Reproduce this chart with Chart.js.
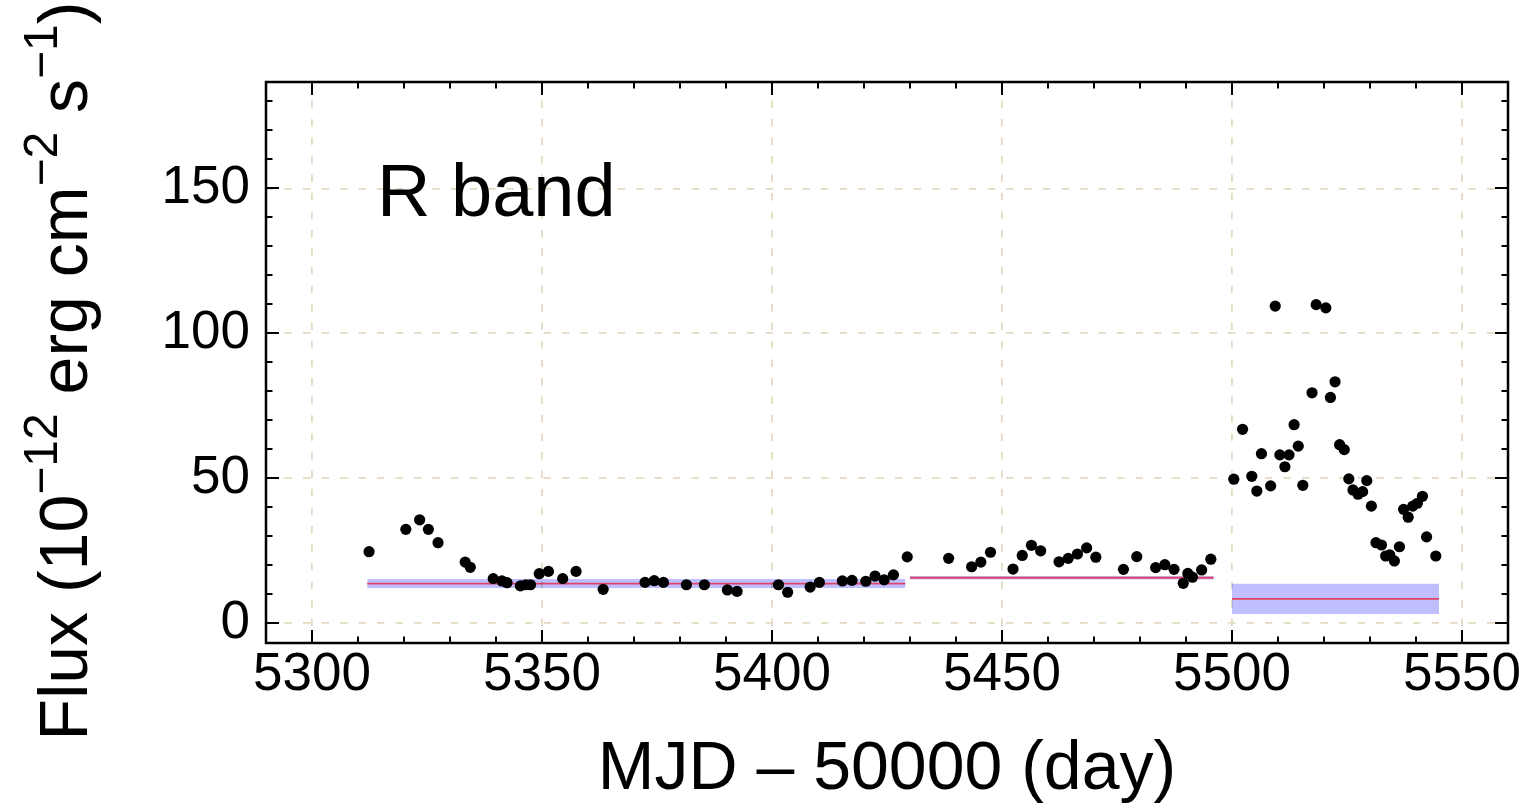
<!DOCTYPE html>
<html>
<head>
<meta charset="utf-8">
<title>R band light curve</title>
<script src="https://cdn.jsdelivr.net/npm/chart.js@4.4.1/dist/chart.umd.min.js"></script>
<style>
  html, body { margin: 0; padding: 0; background: #ffffff; }
  #wrap { width: 1535px; height: 811px; }
</style>
</head>
<body>
<div id="wrap"><canvas id="c" width="1535" height="811"></canvas></div>
<script>
// Observation epochs (MJD - 50000) and R-band flux (1e-12 erg cm^-2 s^-1)
const mjd = [
  5312.4, 5320.4, 5323.4, 5325.3, 5327.4, 5333.3, 5334.4, 5339.4, 5341.3, 5342.4,
  5345.3, 5346.5, 5347.5, 5349.4, 5351.4, 5354.5, 5357.4, 5363.3, 5372.4, 5374.4,
  5376.4, 5381.4, 5385.3, 5390.3, 5392.4, 5401.4, 5403.4, 5408.3, 5410.3, 5415.3,
  5417.4, 5420.4, 5422.4, 5424.4, 5426.4, 5429.4, 5438.4, 5443.4, 5445.4, 5447.5,
  5452.4, 5454.4, 5456.4, 5458.4, 5462.4, 5464.4, 5466.4, 5468.4, 5470.4, 5476.4,
  5479.3, 5483.4, 5485.4, 5487.4, 5489.4, 5490.4, 5491.4, 5493.4, 5495.4, 5500.4,
  5502.3, 5504.3, 5505.4, 5506.4, 5508.4, 5509.4, 5510.4, 5511.5, 5512.4, 5513.5,
  5514.4, 5515.4, 5517.4, 5518.3, 5520.4, 5521.4, 5522.4, 5523.4, 5524.4, 5525.4,
  5526.3, 5527.4, 5528.4, 5529.3, 5530.3, 5531.3, 5532.5, 5533.4, 5534.3, 5535.3,
  5536.4, 5537.3, 5538.3, 5539.3, 5540.3, 5541.4, 5542.3, 5544.3
];
const flux = [
  24.7, 32.4, 35.7, 32.4, 27.8, 21.1, 19.3, 15.4, 14.6, 14.0,
  12.9, 13.3, 13.3, 17.1, 17.9, 15.4, 17.9, 11.7, 14.1, 14.7,
  14.1, 13.3, 13.3, 11.5, 11.0, 13.3, 10.7, 12.5, 14.1, 14.6,
  14.8, 14.5, 16.3, 15.0, 16.7, 22.9, 22.4, 19.5, 21.1, 24.5,
  18.7, 23.4, 26.9, 25.0, 21.2, 22.4, 23.9, 26.0, 22.8, 18.6,
  23.0, 19.2, 20.2, 18.6, 13.8, 17.2, 15.9, 18.4, 22.1, 49.7,
  66.9, 50.7, 45.6, 58.5, 47.4, 109.4, 58.1, 54.0, 58.1, 68.5,
  61.1, 47.6, 79.5, 109.9, 108.8, 77.9, 83.3, 61.6, 59.9, 49.8,
  46.0, 44.5, 45.4, 49.2, 40.4, 27.8, 27.0, 23.2, 23.6, 21.5,
  26.4, 39.3, 36.6, 40.4, 41.4, 43.8, 29.8, 23.2
];

// Constant-flux blocks: time span, mean flux and its uncertainty
const blockStart = [5312, 5430, 5500];
const blockEnd   = [5429, 5496, 5545];
const blockFlux  = [13.7, 15.7, 8.4];
const blockErr   = [1.55, 0.6, 5.2];

// Axis ticks
const xTicks = [5300, 5350, 5400, 5450, 5500, 5550];
const yTicks = [0, 50, 100, 150];
const xMinorStep = 10;
const yMinorStep = 10;

const FONT = '"Liberation Sans", Arial, Helvetica, sans-serif';
const gridColor = '#e4d9c1';
const bandColor = 'rgba(0, 0, 255, 0.25)';
const meanColor = 'rgba(240, 0, 20, 0.65)';

const datasets = [];
blockStart.forEach((s, i) => {
  const e = blockEnd[i], f = blockFlux[i], d = blockErr[i];
  datasets.push({
    type: 'line', data: [{ x: s, y: f - d }, { x: e, y: f - d }],
    borderColor: 'transparent', pointRadius: 0, fill: false, order: 3
  });
  datasets.push({
    type: 'line', data: [{ x: s, y: f + d }, { x: e, y: f + d }],
    borderColor: 'transparent', backgroundColor: bandColor,
    pointRadius: 0, fill: '-1', order: 3
  });
  datasets.push({
    type: 'line', data: [{ x: s, y: f }, { x: e, y: f }],
    borderColor: meanColor, borderWidth: 1.8, pointRadius: 0, fill: false, order: 2
  });
});
datasets.push({
  type: 'scatter',
  data: mjd.map((t, i) => ({ x: t, y: flux[i] })),
  backgroundColor: '#000', borderWidth: 0, pointRadius: 5.6, order: 0
});

// Box frame with inward major/minor ticks on all four sides
const frameTicks = {
  id: 'frameTicks',
  afterDatasetsDraw(chart) {
    const { ctx, chartArea: a, scales: { x, y } } = chart;
    ctx.save();
    ctx.strokeStyle = '#000';
    ctx.lineCap = 'butt';
    const majorLen = 13, minorLen = 6.5;
    ctx.lineWidth = 2;
    ctx.beginPath();
    const xMin = x.min, xMax = x.max, yMin = y.min, yMax = y.max;
    for (let v = Math.ceil(xMin / xMinorStep) * xMinorStep; v <= xMax; v += xMinorStep) {
      const px = Math.round(x.getPixelForValue(v));
      if (px <= a.left + 1 || px >= a.right - 1) continue;
      const len = xTicks.includes(v) ? majorLen : minorLen;
      ctx.moveTo(px, a.bottom); ctx.lineTo(px, a.bottom - len);
      ctx.moveTo(px, a.top); ctx.lineTo(px, a.top + len);
    }
    for (let v = Math.ceil(yMin / yMinorStep) * yMinorStep; v <= yMax; v += yMinorStep) {
      const py = Math.round(y.getPixelForValue(v));
      if (py <= a.top + 1 || py >= a.bottom - 1) continue;
      const len = yTicks.includes(v) ? majorLen : minorLen;
      ctx.moveTo(a.left, py); ctx.lineTo(a.left + len, py);
      ctx.moveTo(a.right, py); ctx.lineTo(a.right - len, py);
    }
    ctx.stroke();
    ctx.lineWidth = 2.5;
    ctx.strokeRect(a.left, a.top, a.right - a.left, a.bottom - a.top);
    ctx.restore();
  }
};

// Band name inside the axes and the y-axis title with superscripted units
const annotations = {
  id: 'annotations',
  afterDraw(chart) {
    const { ctx, chartArea: a } = chart;
    ctx.save();
    ctx.fillStyle = '#000';
    ctx.textAlign = 'left';
    ctx.textBaseline = 'alphabetic';
    ctx.font = '74px ' + FONT;
    ctx.fillText('R band', a.left + 111, a.top + 134);

    const size = 68, supSize = 48, raise = 30;
    const parts = [
      ['Flux (10', false], ['\u221212', true], [' erg cm', false],
      ['\u22122', true], [' s', false], ['\u22121', true], [')', false]
    ];
    let total = 0;
    const widths = parts.map(([t, sup]) => {
      ctx.font = (sup ? supSize : size) + 'px ' + FONT;
      const w = ctx.measureText(t).width;
      total += w;
      return w;
    });
    ctx.translate(87, 371 + total / 2);
    ctx.rotate(-Math.PI / 2);
    let cx = 0;
    parts.forEach(([t, sup], i) => {
      ctx.font = (sup ? supSize : size) + 'px ' + FONT;
      ctx.fillText(t, cx, sup ? -raise : 0);
      cx += widths[i];
    });
    ctx.restore();
  }
};

new Chart(document.getElementById('c'), {
  type: 'scatter',
  data: { datasets },
  options: {
    responsive: false,
    animation: false,
    devicePixelRatio: 1,
    layout: { padding: { left: 0, right: 27, top: 82, bottom: 0 } },
    plugins: { legend: { display: false }, tooltip: { enabled: false } },
    scales: {
      x: {
        type: 'linear', position: 'bottom', min: 5290, max: 5560,
        afterBuildTicks: s => { s.ticks = xTicks.map(v => ({ value: v })); },
        afterFit: s => { s.height = 168; },
        grid: { color: gridColor, lineWidth: 1.8, drawTicks: false },
        border: { display: false, dash: [7.5, 11] },
        ticks: {
          color: '#000', font: { family: FONT, size: 53 }, padding: 1,
          maxRotation: 0, autoSkip: false, callback: v => String(v)
        },
        title: {
          display: true, text: 'MJD \u2013 50000 (day)', color: '#000',
          font: { family: FONT, size: 68 }, padding: 0
        }
      },
      y: {
        type: 'linear', position: 'left', min: -6.8, max: 186.7,
        afterBuildTicks: s => { s.ticks = yTicks.map(v => ({ value: v })); },
        afterFit: s => { s.width = 266; },
        grid: { color: gridColor, lineWidth: 1.8, drawTicks: false },
        border: { display: false, dash: [7.5, 11] },
        ticks: {
          color: '#000', font: { family: FONT, size: 53 }, padding: 16,
          autoSkip: false, callback: v => String(v)
        },
        title: { display: false }
      }
    }
  },
  plugins: [frameTicks, annotations]
});
</script>
</body>
</html>
